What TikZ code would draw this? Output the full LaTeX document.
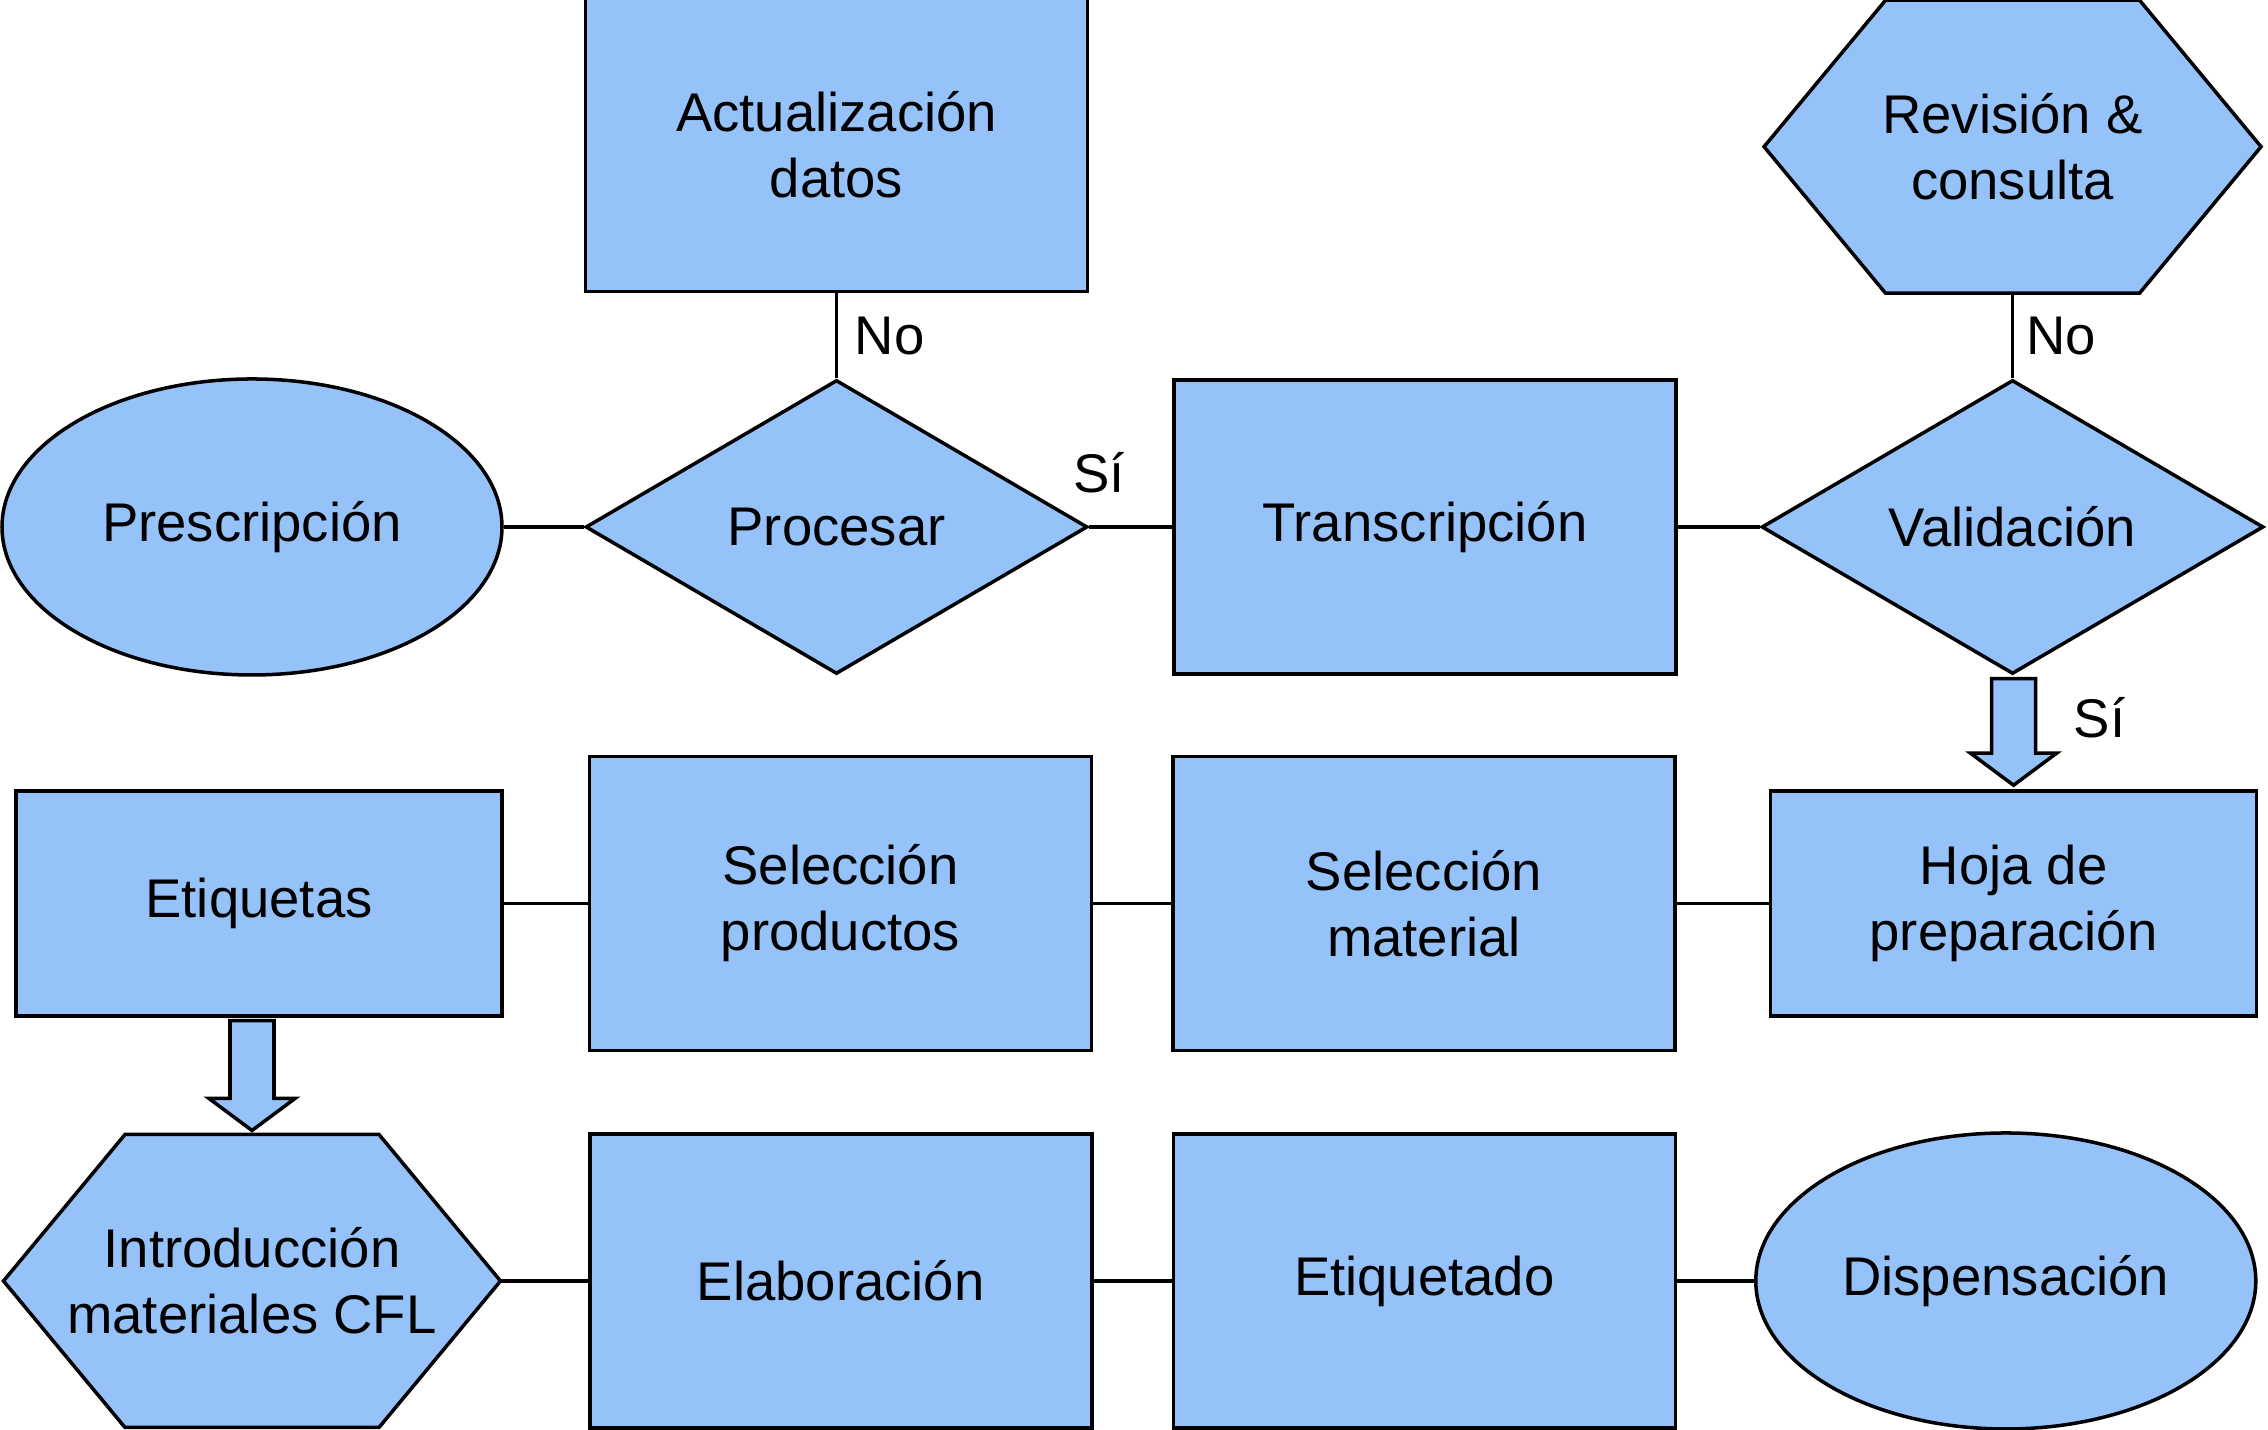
\documentclass[tikz,border=0pt]{standalone}
\usepackage{fontspec}
\setmainfont{Liberation Sans}
\usepackage{tikz}
\usetikzlibrary{backgrounds,positioning,shapes}
\definecolor{azul}{RGB}{150,194,250}
\tikzstyle{forma}=[draw=black,fill=azul,line width=1pt]
\tikzstyle{caja}=[forma,rectangle,align=center,minimum width=5.02cm,minimum height=2.94cm]
\tikzstyle{tarjeta}=[caja,minimum width=4.86cm,minimum height=2.25cm]
\tikzstyle{elipse}=[forma,ellipse,inner sep=0,minimum width=5cm,minimum height=2.96cm]
\tikzstyle{rombo}=[forma,diamond,inner sep=0,minimum width=5.02cm,minimum height=2.94cm]
\tikzstyle{hexa}=[rectangle,align=center,outer sep=0,minimum width=4.97cm,minimum height=2.93cm]
\tikzstyle{linea}=[line width=1pt]

\begin{document}
\begin{tikzpicture}[font=\fontsize{15.5}{18.8}\selectfont]
	\useasboundingbox (0,0) rectangle (22.68,14.30);
	% fila de arriba
	\node[elipse](prescr) at (2.52,9.03){Prescripción};
	\node[rombo](procesar)[right=0.80 of prescr]{Procesar};
	\node[caja](transcr)[right=0.83 of procesar]{Transcripción};
	\node[rombo](valid)[right=0.82 of transcr]{Validación};
	\node[caja](actual)[above=0.85 of procesar]{Actualización\\datos};
	\node[hexa](revision)[above=0.85 of valid]{Revisión \&\\consulta};
	% fila del medio
	\node[tarjeta](etiq) at (2.59,5.265){Etiquetas};
	\node[caja](selprod)[right=0.84 of etiq]{Selección\\productos};
	\node[caja](selmat)[right=0.78 of selprod]{Selección\\material};
	\node[tarjeta](hoja)[right=0.92 of selmat]{Hoja de\\preparación};
	% fila de abajo
	\node[hexa](intro) at (2.52,1.49){Introducción\\materiales CFL};
	\node[caja](elab)[right=0.875 of intro]{Elaboración};
	\node[caja](etiqdo)[right=0.78 of elab]{Etiquetado};
	\node[elipse](dispens)[right=0.77 of etiqdo]{Dispensación};
	\begin{scope}[on background layer]
		\foreach \h in {revision,intro}
			\path[forma] (\h.west) -- ([xshift=-1.27cm]\h.north) -- ([xshift=1.27cm]\h.north) -- (\h.east) -- ([xshift=1.27cm]\h.south) -- ([xshift=-1.27cm]\h.south) -- cycle;
	\end{scope}
	\draw[linea](prescr) -- (procesar);
	\draw[linea](procesar) -- node[above=0.2cm,pos=0.12](si1){Sí} (transcr);
	\draw[linea](transcr) -- (valid);
	\draw[linea](actual) -- node[right,xshift=0.05cm](no1){No} (procesar);
	\draw[linea](revision) -- node[right](no2){No} (valid);
	\draw[linea](etiq) -- (selprod);
	\draw[linea](selprod) -- (selmat);
	\draw[linea](selmat) -- (hoja);
	\draw[linea](intro) -- (elab);
	\draw[linea](elab) -- (etiqdo);
	\draw[linea](etiqdo) -- (dispens);
	% flechas gordas
	\foreach \a/\b in {valid/hoja,etiq/intro}
		\path[forma] ([xshift=-0.22cm,yshift=-0.03cm]\b.north |- \a.south) -- ([xshift=-0.22cm,yshift=0.36cm]\b.north) -- ([xshift=-0.43cm,yshift=0.36cm]\b.north) -- ([yshift=0.04cm]\b.north) -- ([xshift=0.43cm,yshift=0.36cm]\b.north) -- ([xshift=0.22cm,yshift=0.36cm]\b.north) -- ([xshift=0.22cm,yshift=-0.03cm]\b.north |- \a.south) -- cycle;
	\node(si2) at ([xshift=0.87cm,yshift=-0.42cm]valid.south){Sí};
\end{tikzpicture}
\end{document}
